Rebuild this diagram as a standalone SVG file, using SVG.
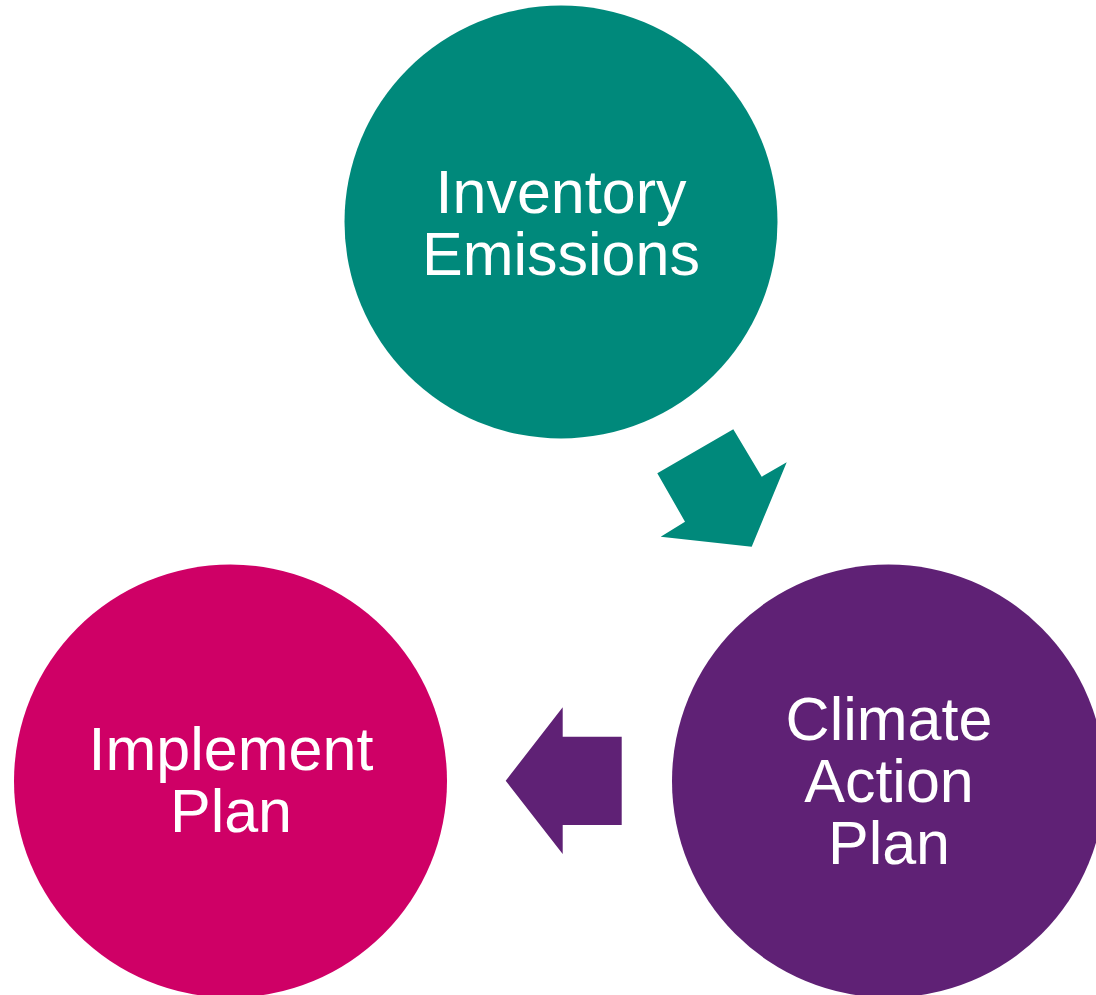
<svg xmlns="http://www.w3.org/2000/svg" width="1096" height="995" viewBox="0 0 1096 995">
<style>
.lbl{font-family:"Liberation Sans",Arial,sans-serif;font-size:61px;fill:#ffffff;text-anchor:middle}
</style>
<rect width="1096" height="995" fill="#ffffff"/>
<g id="connectors">
<polygon points="657.3,473.3 733.3,429.3 761.7,476.7 786.7,462.3 751.7,546.7 660.7,536.7 685,521.7" fill="#00897B"/>
<polygon points="505.7,780.7 562.7,707.3 562.7,736.7 621.7,736.7 621.7,825 562.7,825 562.7,854" fill="#5F2175"/>
</g>
<g id="inventory">
<circle cx="561" cy="222" r="216.5" fill="#00897B"/>
<text class="lbl" x="561" y="213">Inventory</text>
<text class="lbl" x="561" y="275">Emissions</text>
</g>
<g id="implement">
<circle cx="230.5" cy="781" r="216.5" fill="#CF0066"/>
<text class="lbl" x="231" y="770">Implement</text>
<text class="lbl" x="231" y="832">Plan</text>
</g>
<g id="climate">
<circle cx="888.5" cy="781" r="216.5" fill="#5F2175"/>
<text class="lbl" x="889" y="740">Climate</text>
<text class="lbl" x="889" y="802">Action</text>
<text class="lbl" x="889" y="864">Plan</text>
</g>
</svg>
